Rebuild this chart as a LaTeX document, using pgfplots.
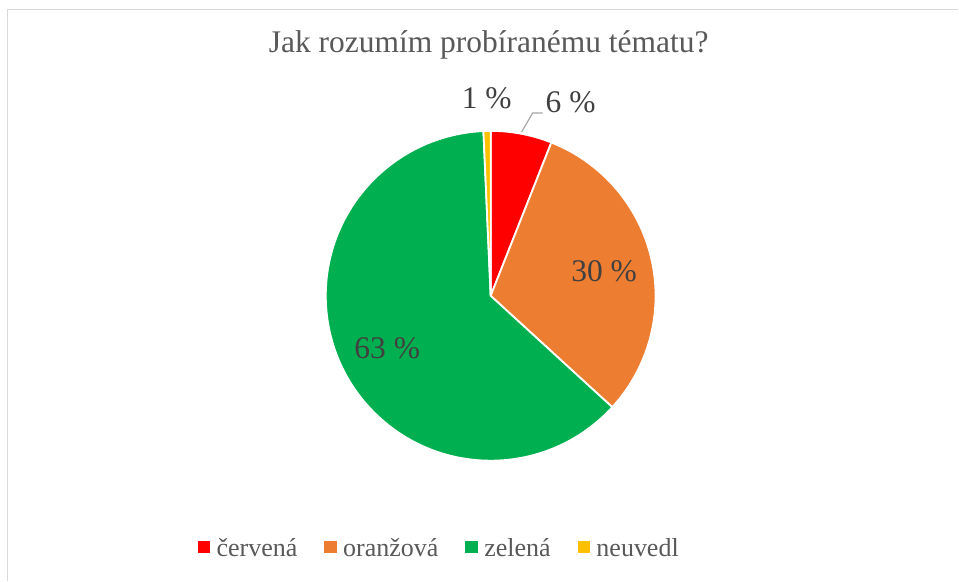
\documentclass[border=0pt]{standalone}
\usepackage{pgfplots}
\pgfplotsset{compat=1.18}
\usepackage{fontspec}
\setmainfont{Liberation Serif}
\definecolor{cred}{HTML}{FF0000}
\definecolor{corange}{HTML}{ED7D31}
\definecolor{cgreen}{HTML}{00B050}
\definecolor{cyellow}{HTML}{FFC000}
\definecolor{ctitle}{HTML}{595959}
\definecolor{clabel}{HTML}{404040}
\definecolor{cborder}{HTML}{D9D9D9}
\definecolor{cleader}{HTML}{A6A6A6}
% data (percent)
\def\vA{6.0}  % červená
\def\vB{30.8} % oranžová
\def\vC{62.5} % zelená
\def\vD{0.7}  % neuvedl
\begin{document}%
\begin{tikzpicture}
\pgfmathsetmacro\aA{90}
\pgfmathsetmacro\aB{90-3.6*\vA}
\pgfmathsetmacro\aC{90-3.6*(\vA+\vB)}
\pgfmathsetmacro\aD{90-3.6*(\vA+\vB+\vC)}
\pgfmathsetmacro\aE{90-3.6*(\vA+\vB+\vC+\vD)}
\begin{axis}[
  width=959pt, height=581pt, scale only axis,
  xmin=0, xmax=959, ymin=0, ymax=581,
  hide axis, clip=false,
  legend columns=4,
  legend style={at={(axis cs:438.5,32)}, anchor=center, draw=none, fill=none,
    inner sep=0pt, font=\fontsize{26}{30}\selectfont, text=ctitle,
    nodes={inner sep=0pt},
    /tikz/every odd column/.append style={column sep=7pt},
    /tikz/every even column/.append style={column sep=27pt}},
]
\fill[white] (axis cs:0,0) rectangle (axis cs:959,581);
\draw[cborder, line width=1.3pt] (axis cs:7.5,0) -- (axis cs:7.5,571.5) -- (axis cs:959,571.5);
\addlegendimage{legend image code/.code={\fill[cred] (0pt,-4pt) rectangle (11.5pt,7.5pt);}}
\addlegendentry{červená}
\addlegendimage{legend image code/.code={\fill[corange] (0pt,-4pt) rectangle (11.5pt,7.5pt);}}
\addlegendentry{oranžová}
\addlegendimage{legend image code/.code={\fill[cgreen] (0pt,-4pt) rectangle (11.5pt,7.5pt);}}
\addlegendentry{zelená}
\addlegendimage{legend image code/.code={\fill[cyellow] (0pt,-4pt) rectangle (11.5pt,7.5pt);}}
\addlegendentry{neuvedl}
\fill[cred, draw=white, line width=1.8pt] (axis cs:491,285) -- ++(\aA:165pt) arc[start angle=\aA, end angle=\aB, radius=165pt] -- cycle;
\fill[corange, draw=white, line width=1.8pt] (axis cs:491,285) -- ++(\aB:165pt) arc[start angle=\aB, end angle=\aC, radius=165pt] -- cycle;
\fill[cgreen, draw=white, line width=1.8pt] (axis cs:491,285) -- ++(\aC:165pt) arc[start angle=\aC, end angle=\aD, radius=165pt] -- cycle;
\fill[cyellow, draw=white, line width=1.8pt] (axis cs:491,285) -- ++(\aD:165pt) arc[start angle=\aD, end angle=\aE, radius=165pt] -- cycle;
\draw[cleader, line width=1.2pt] (axis cs:522,449) -- (axis cs:533,468) -- (axis cs:543,468);
\node[anchor=base, text=ctitle, font=\fontsize{31.5}{36}\selectfont, inner sep=0pt] at (axis cs:489,528) {Jak rozumím probíranému tématu?};
\node[anchor=base, text=clabel, font=\fontsize{31.5}{36}\selectfont, inner sep=0pt] at (axis cs:571,468) {6 \%};
\node[anchor=base, text=clabel, font=\fontsize{31.5}{36}\selectfont, inner sep=0pt] at (axis cs:487,472) {1 \%};
\node[anchor=base, text=clabel, font=\fontsize{31.5}{36}\selectfont, inner sep=0pt] at (axis cs:604.5,299) {30 \%};
\node[anchor=base, text=clabel, font=\fontsize{31.5}{36}\selectfont, inner sep=0pt] at (axis cs:387.5,222) {63 \%};
\end{axis}
\end{tikzpicture}%
\end{document}
